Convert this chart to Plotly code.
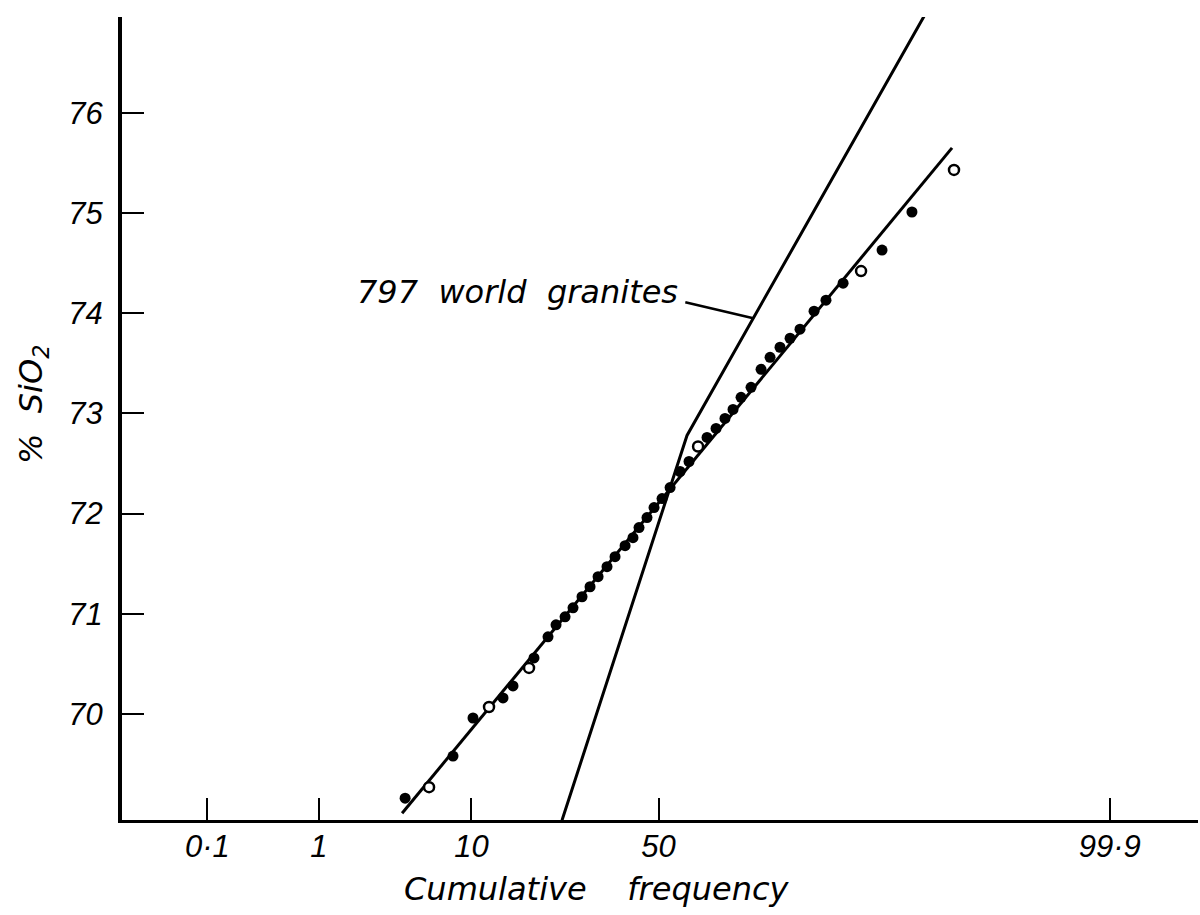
import plotly.graph_objects as go
from statistics import NormalDist

# ---------------- data ----------------
# cumulative frequency (%) and % SiO2 of the sample points
filled_freq = [4.13, 7.96, 10.19, 14.34, 15.94, 19.68, 22.45, 24.13, 26.10, 27.90,
               30.01, 31.95, 33.94, 36.21, 38.29, 40.94, 43.05, 44.68, 46.85, 48.77,
               50.96, 53.15, 55.86, 58.27, 63.01, 65.32, 67.55, 69.50, 71.40, 73.68,
               75.87, 77.75, 79.73, 81.62, 83.37, 85.66, 87.43, 89.69, 93.71, 95.87]
filled_sio2 = [69.16, 69.58, 69.96, 70.16, 70.28, 70.56, 70.77, 70.89, 70.97, 71.06,
               71.17, 71.27, 71.37, 71.47, 71.57, 71.68, 71.76, 71.86, 71.96, 72.06,
               72.15, 72.26, 72.42, 72.52, 72.76, 72.85, 72.95, 73.04, 73.16, 73.26,
               73.44, 73.56, 73.66, 73.75, 73.84, 74.02, 74.13, 74.30, 74.63, 75.01]
open_freq = [5.80, 12.28, 18.75, 60.67, 91.73, 97.85]
open_sio2 = [69.27, 70.07, 70.46, 72.67, 74.42, 75.43]

# fitted straight line through the samples
fit_freq = [3.95, 97.78]
fit_sio2 = [69.01, 75.65]

# 797 world granites (two-segment line)
world_freq = [25.43, 57.73, 96.60]
world_sio2 = [68.94, 72.78, 76.98]

# axis ticks
x_tick_freq = [0.1, 1, 10, 50, 99.9]
x_tick_text = ["0·1", "1", "10", "50", "99·9"]
y_ticks = [70, 71, 72, 73, 74, 75, 76]

# ---------------- probability transform ----------------
nd = NormalDist()
def probit(values):
    return [nd.inv_cdf(v / 100.0) for v in values]

TICKFONT = dict(family="Liberation Sans, Arial, sans-serif", size=31, color="black", style="italic")
TEXTFONT = dict(family="DejaVu Sans, sans-serif", size=32, color="black", style="italic")
NB = "\u00a0"

fig = go.Figure()

fig.add_trace(go.Scatter(x=probit(fit_freq), y=fit_sio2, mode="lines",
                         line=dict(color="black", width=3), hoverinfo="skip"))
fig.add_trace(go.Scatter(x=probit(world_freq), y=world_sio2, mode="lines",
                         line=dict(color="black", width=3), hoverinfo="skip"))
fig.add_trace(go.Scatter(x=probit(filled_freq), y=filled_sio2, mode="markers",
                         marker=dict(symbol="circle", size=11, color="black",
                                     line=dict(color="black", width=0))))
fig.add_trace(go.Scatter(x=probit(open_freq), y=open_sio2, mode="markers",
                         marker=dict(symbol="circle", size=10, color="white",
                                     line=dict(color="black", width=2.5))))

# leader line from label to the world-granite line
tip_sio2 = 73.95
start_sio2 = 74.11
zk, zt = probit(world_freq[1:])
sk, st = world_sio2[1], world_sio2[2]
tip_z = zk + (tip_sio2 - sk) / (st - sk) * (zt - zk)
fig.add_shape(type="line", xref="x", yref="y",
              x0=tip_z - 68 / 146.0, y0=start_sio2, x1=tip_z, y1=tip_sio2,
              line=dict(color="black", width=2.5))

fig.add_annotation(text=f"797{NB*2}world{NB*2}granites", xref="x", yref="y",
                   x=tip_z - 73 / 146.0, y=start_sio2 + 0.10, xanchor="right", yanchor="middle",
                   showarrow=False, font=TEXTFONT)

# axis titles as annotations (pixel-placed in paper units)
W0, W1, H0, H1 = 122, 1198, 17, 820
def px(xp): return (xp - W0) / (W1 - W0)
def py(yp): return (H1 - yp) / (H1 - H0)

fig.add_annotation(text=f"Cumulative{NB*4}frequency", xref="paper", yref="paper",
                   x=px(597), y=py(889), xanchor="center", yanchor="middle",
                   showarrow=False, font=TEXTFONT)
fig.add_annotation(text=f"%{NB*2}SiO<sub>2</sub>", xref="paper", yref="paper",
                   x=px(33), y=py(405), xanchor="center", yanchor="middle",
                   textangle=-90, showarrow=False, font=TEXTFONT)

fig.update_xaxes(range=[-3.675, 3.695], showgrid=False, zeroline=False,
                 showline=True, linecolor="black", linewidth=3,
                 ticks="inside", ticklen=22, tickwidth=2, tickcolor="black",
                 tickvals=probit(x_tick_freq), ticktext=x_tick_text,
                 tickfont=TICKFONT, ticklabelstandoff=-3)
fig.update_yaxes(range=[68.942, 76.956], showgrid=False, zeroline=False,
                 showline=True, linecolor="black", linewidth=4,
                 ticks="inside", ticklen=22, tickwidth=2, tickcolor="black",
                 tickvals=y_ticks, tickfont=TICKFONT, ticklabelstandoff=9)

fig.update_layout(width=1200, height=915, showlegend=False,
                  paper_bgcolor="white", plot_bgcolor="white",
                  margin=dict(l=122, r=2, t=17, b=95))

fig.write_html("out.html")
